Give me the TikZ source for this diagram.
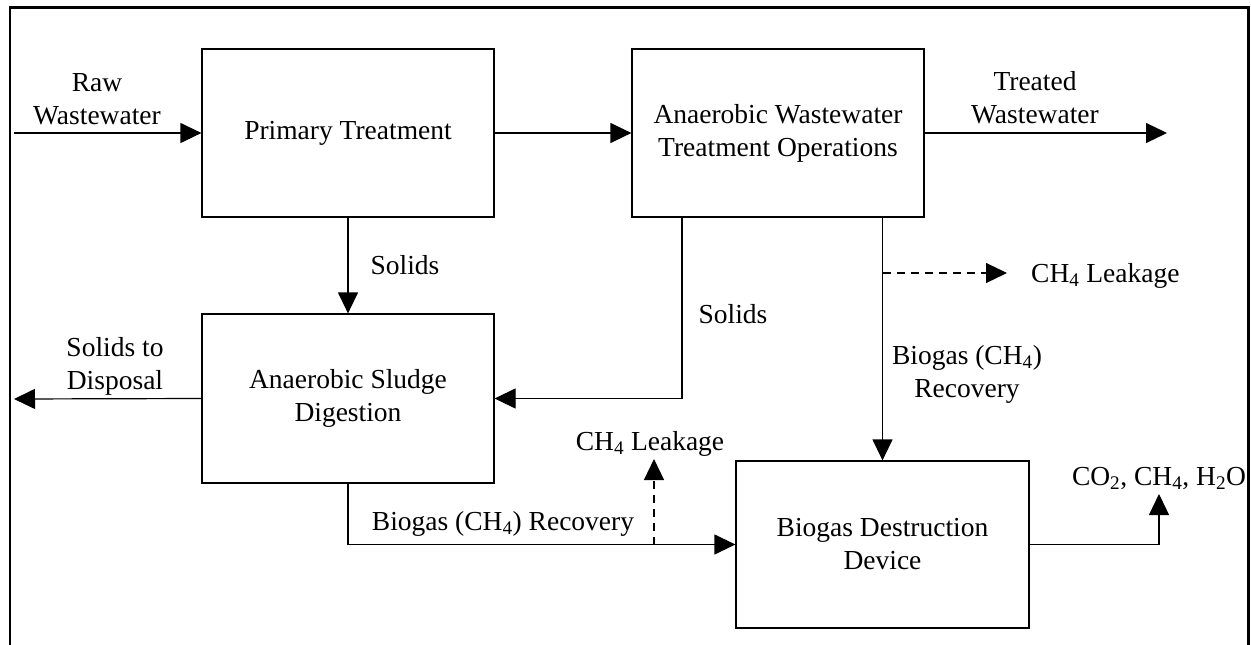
\documentclass[tikz,border=0pt]{standalone}
\usepackage{fontspec}
\setmainfont{Liberation Serif}
\usetikzlibrary{arrows.meta}
\begin{document}
\begin{tikzpicture}[x=1pt,y=-1pt,
  every node/.style={font=\fontsize{27.5}{33}\selectfont},
  box/.style={draw, line width=1.2pt, inner sep=0pt, align=center},
  lbl/.style={inner sep=0pt, align=center},
  arr/.style={line width=1.2pt, -{Triangle[length=21pt,width=20pt]}},
  leakarr/.style={line width=1.2pt, dash pattern=on 8pt off 6pt, -{Triangle[length=21pt,width=20pt]}}]
\useasboundingbox (0,0) rectangle (1251,645);
\fill[white] (0,0) rectangle (1251,645);
% outer frame
\draw[line width=2.2pt] (10,650) -- (10,7.5) -- (1248.5,7.5) -- (1248.5,650);
% boxes
\node[box, minimum width=292pt, minimum height=168pt] (pt) at (348,133) {Primary Treatment};
\node[box, minimum width=292pt, minimum height=168pt] (aw) at (778,133) {Anaerobic Wastewater\\Treatment Operations};
\node[box, minimum width=292pt, minimum height=169pt] (sd) at (348,398.5) {Anaerobic Sludge\\Digestion};
\node[box, minimum width=293pt, minimum height=167pt] (bd) at (882.5,544.5) {Biogas Destruction\\Device};
% labels
\node[lbl] (raw) at (97,99) {Raw\\Wastewater};
\node[lbl] (tw) at (1035,98) {Treated\\Wastewater};
\node[lbl, anchor=base] (sol1) at (405,274) {Solids};
\node[lbl, anchor=base] (sol2) at (733,323) {Solids};
\node[lbl] (disp) at (115,366) {Solids to\\Disposal};
\node[lbl, anchor=base] (bgr1) at (503,530) {Biogas (CH\textsubscript{4}) Recovery};
\node[lbl, anchor=base] (leak2) at (650,450) {CH\textsubscript{4} Leakage};
\node[lbl, anchor=base west] (leak1) at (1031,282) {CH\textsubscript{4} Leakage};
\node[lbl] (bgr2) at (967,374) {Biogas (CH\textsubscript{4})\\Recovery};
\node[lbl, anchor=base] (co) at (1159,485) {CO\textsubscript{2}, CH\textsubscript{4}, H\textsubscript{2}O};
% helper coordinates
\coordinate (rawin) at (14,133);
\coordinate (twout) at (1167,133);
\coordinate (dispout) at (14,399);
\coordinate (c2) at (682,0);
\coordinate (c3) at (654,0);
\coordinate (c4) at (0,273);
\coordinate (l1end) at (1007,273);
\coordinate (l2end) at (654,459);
\coordinate (coend) at (1159,494);
% connectors
\draw[arr] (rawin) -- (pt.west);
\draw[arr] (pt.east) -- (aw.west);
\draw[arr] (aw.east) -- (twout);
\draw[arr] (pt.south) -- (sd.north);
\draw[arr] (aw.south -| c2) |- (sd.east);
\draw[arr] (sd.west) -- (dispout);
\draw[arr] (sd.south) |- (bd.west);
\draw[leakarr] (bd.west -| c3) -- (l2end);
\draw[arr] (aw.south -| bd.north) -- (bd.north);
\draw[leakarr] (bd.north |- c4) -- (l1end);
\draw[arr] (bd.east) -| (coend);
\end{tikzpicture}
\end{document}
